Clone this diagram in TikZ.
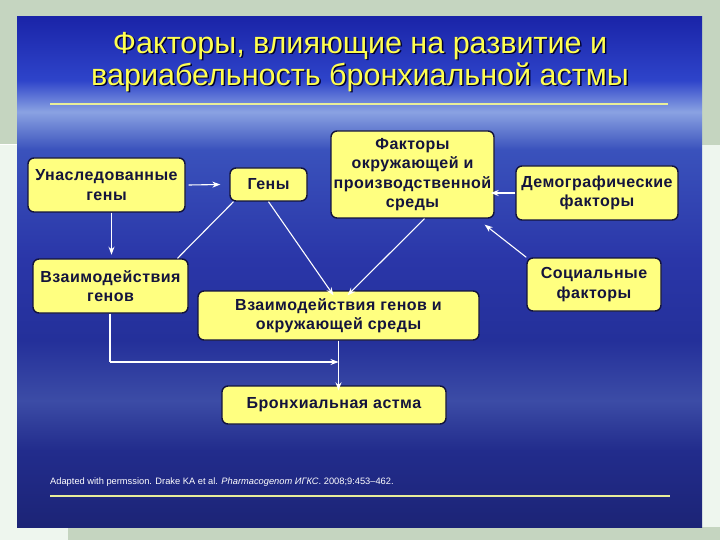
\documentclass[tikz,border=0pt]{standalone}
\usepackage{fontspec}
\setmainfont{Liberation Sans}
\usetikzlibrary{arrows.meta}
\definecolor{bgA}{HTML}{C5D5C0}
\definecolor{bgB}{HTML}{EEF6EE}
\definecolor{boxfill}{HTML}{FFFF80}
\definecolor{boxtext}{HTML}{14143C}
\definecolor{ttl}{HTML}{FFFF50}
\definecolor{rule}{HTML}{E8EE9A}
\definecolor{p1}{HTML}{1A24A8}
\definecolor{p2}{HTML}{2E44CA}
\definecolor{p3}{HTML}{8AA2E2}
\definecolor{p4}{HTML}{3A52BC}
\definecolor{p5}{HTML}{2A36A8}
\definecolor{p6}{HTML}{24309A}
\definecolor{p7}{HTML}{3C4CA6}
\definecolor{p8}{HTML}{222C8C}
\definecolor{p9}{HTML}{1C2476}
\pgfdeclareverticalshading{panel}{100bp}{%
  color(0bp)=(p9); color(25bp)=(p9); color(32.5bp)=(p8); color(37.4bp)=(p7); color(43.3bp)=(p6);
  color(51.2bp)=(p5); color(62bp)=(p4); color(65.7bp)=(p3); color(68.8bp)=(p2); color(75bp)=(p1); color(100bp)=(p1)}
\tikzset{
  fbox/.style={draw=boxtext, line width=1.4pt, fill=boxfill, rounded corners=6pt,
    font=\bfseries\fontsize{16}{19.5}\selectfont\addfontfeature{LetterSpace=3}, text=boxtext, align=center, inner sep=0pt},
  conn/.style={draw=white, line width=1.1pt},
  arr/.style={conn, -{Stealth[length=8pt,width=6pt]}},
  ttlstyle/.style={font=\fontsize{30.5}{32}\selectfont, align=center}
}
\begin{document}
\begin{tikzpicture}[x=1pt,y=-1pt]
\useasboundingbox (0,0) rectangle (720,540);
% background
\fill[bgB] (0,0) rectangle (720,540);
\fill[bgA] (0,0) rectangle (17,145);
\fill[bgA] (702,0) rectangle (720,145);
\fill[bgA] (0,0) rectangle (720,17);
\fill[bgA] (68,527) rectangle (720,540);
\draw[white, line width=1pt] (0,145) -- (17,145);
% panel
\shade[shading=panel] (17,17) rectangle (702,527);
% title
\node[ttlstyle, text=black!80!blue] (tshadow) at (361.5,63.5) {Факторы, влияющие на развитие и\\вариабельность бронхиальной астмы};
\node[ttlstyle, text=ttl] (title) at (360,62) {Факторы, влияющие на развитие и\\вариабельность бронхиальной астмы};
\draw[rule, line width=1.6pt] (50,104) -- (668,104);
\draw[rule, line width=2pt] (50,496) -- (670,496);
% boxes
\node[fbox, minimum width=157pt, minimum height=54pt] (inh) at (106.5,185) {Унаследованные\\гены};
\node[fbox, minimum width=77pt, minimum height=33pt] (genes) at (268.5,184.5) {Гены};
\node[fbox, minimum width=163pt, minimum height=87pt] (env) at (412.5,174.5) {Факторы\\окружающей и\\производственной\\среды};
\node[fbox, minimum width=162pt, minimum height=54pt] (demo) at (597,193) {Демографические\\факторы};
\node[fbox, minimum width=155pt, minimum height=54pt] (gg) at (110.5,286) {Взаимодействия\\генов};
\node[fbox, minimum width=134pt, minimum height=53pt] (soc) at (594,284.5) {Социальные\\факторы};
\node[fbox, minimum width=281pt, minimum height=49pt] (gxe) at (338.5,315.5) {Взаимодействия генов и\\окружающей среды};
\node[fbox, minimum width=224pt, minimum height=38pt] (asth) at (334,405) {Бронхиальная астма};
% connectors
\coordinate (c1) at (110,362);
\draw[arr] ([xshift=3pt]inh.east) -- ([xshift=-9pt]genes.west);
\draw[arr] ([xshift=5pt]inh.south) -- ++(0,42);
\draw[conn] ([xshift=-35pt]genes.south) -- ([xshift=67pt]gg.north);
\draw[arr] (genes.south) -- ([xshift=-5pt,yshift=-5pt]gxe.north);
\draw[arr] ([xshift=12pt]env.south) -- ([xshift=9pt,yshift=-5pt]gxe.north);
\draw[arr] (demo.west) -- ([xshift=-4pt]env.east |- demo.west);
\draw[arr] (soc.north west) -- ([xshift=-10pt,yshift=-6pt]env.south east);
\draw[conn] (gg.south -| c1) -- (c1);
\draw[arr] (c1) -- (gxe.south |- c1);
\draw[arr] (gxe.south) -- ([yshift=-5pt]gxe.south |- asth.north);
% footnote
\node[anchor=west, text=white, font=\fontsize{9.3}{10}\selectfont, inner sep=0pt] (foot) at (50,482) {Adapted with permssion. Drake KA et al. \textit{Pharmacogenom ИГКС}. 2008;9:453–462.};
\end{tikzpicture}
\end{document}
